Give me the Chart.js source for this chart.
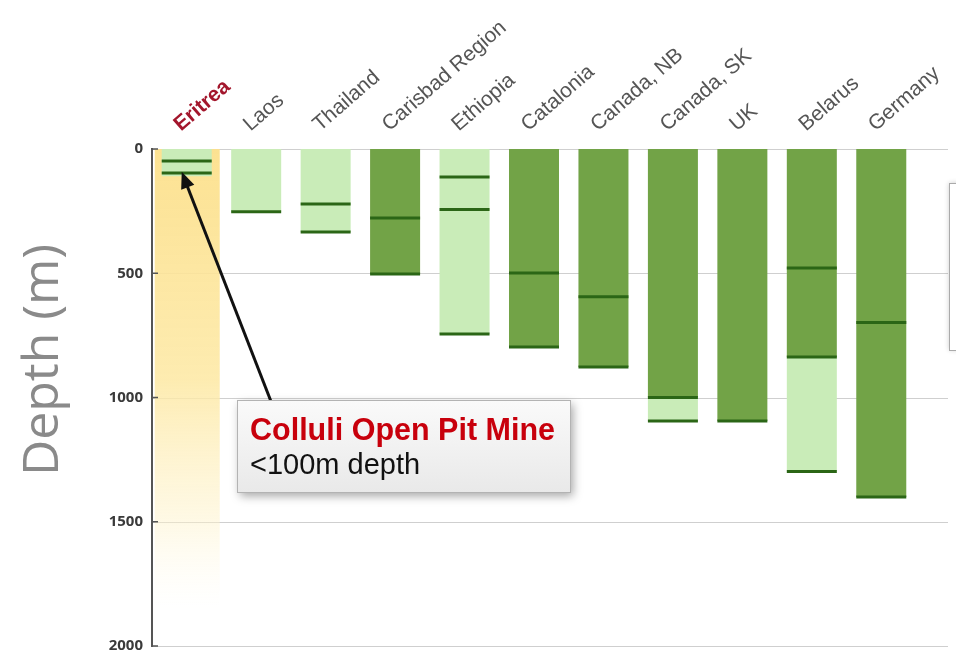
<!DOCTYPE html>
<html>
<head>
<meta charset="utf-8">
<script src="https://cdn.jsdelivr.net/npm/chart.js@4"></script>
<style>
  body { margin: 0; background: #fff; }
  #wrap { width: 956px; height: 667px; position: relative; }
</style>
</head>
<body>
<div id="wrap"><canvas id="myChart"></canvas></div>
<script>
const categories = ['Eritrea', 'Laos', 'Thailand', 'Carisbad Region', 'Ethiopia', 'Catalonia',
  'Canada, NB', 'Canada, SK', 'UK', 'Belarus', 'Germany'];

// depth ranges (m), [top, bottom]
const darkRanges = [null, null, null, [0, 503], null, [0, 797], [0, 877], [0, 1000], [0, 1095], [0, 837], [0, 1400]];
const lightRanges = [[0, 110], [0, 253], [0, 334], null, [0, 744], null, null, [1000, 1095], null, [837, 1298], null];

// horizontal marker lines inside each column
const markDepths = [[48, 97], [253], [221, 334], [278, 503], [113, 243, 744], [499, 797],
  [595, 877], [1000, 1095], [1095], [479, 837, 1298], [698, 1400]];

const yTicks = [0, 500, 1000, 1500, 2000];

const marks = [];
markDepths.forEach((list, i) => {
  list.forEach(d => marks.push({ x: categories[i], y: d }));
});

const data = {
  labels: categories,
  datasets: [
    {
      type: 'line',
      label: 'marks',
      data: marks,
      showLine: false,
      pointStyle: 'line',
      pointRadius: 25,
      pointHoverRadius: 25,
      borderColor: '#2b6616',
      borderWidth: 3,
      order: 0
    },
    {
      label: 'dark',
      data: darkRanges,
      backgroundColor: '#72a347',
      order: 2
    },
    {
      label: 'light',
      data: lightRanges,
      backgroundColor: '#c9ecb8',
      order: 1
    }
  ]
};

// extras drawn on the canvas: highlight band, grid, arrow, callout box
const extras = {
  id: 'extras',
  beforeDatasetsDraw(chart) {
    const { ctx, chartArea, scales: { x, y } } = chart;
    ctx.save();
    // grid lines
    ctx.strokeStyle = '#cfcfcf';
    ctx.lineWidth = 1;
    yTicks.forEach(v => {
      const py = Math.round(y.getPixelForValue(v)) + 0.5;
      ctx.beginPath();
      ctx.moveTo(chartArea.left, py);
      ctx.lineTo(948, py);
      ctx.stroke();
    });
    // Eritrea highlight band
    const cx = x.getPixelForValue(0);
    const top = y.getPixelForValue(0);
    const bot = y.getPixelForValue(1850);
    const g = ctx.createLinearGradient(0, top, 0, bot);
    g.addColorStop(0, 'rgba(252,224,140,0.95)');
    g.addColorStop(0.5, 'rgba(253,232,162,0.85)');
    g.addColorStop(0.8, 'rgba(254,242,200,0.5)');
    g.addColorStop(1, 'rgba(255,250,230,0)');
    ctx.fillStyle = g;
    ctx.fillRect(cx - 32, top, 65, bot - top);
    ctx.restore();
  },
  afterDraw(chart) {
    const { ctx, scales: { x, y } } = chart;
    ctx.save();
    // y axis line
    ctx.strokeStyle = '#555';
    ctx.lineWidth = 2;
    ctx.beginPath();
    ctx.moveTo(152, y.getPixelForValue(0) - 1);
    ctx.lineTo(152, y.getPixelForValue(2000) + 1);
    ctx.stroke();
    ctx.lineWidth = 1.5;
    yTicks.forEach(v => {
      const py = y.getPixelForValue(v);
      ctx.beginPath();
      ctx.moveTo(152, py);
      ctx.lineTo(158, py);
      ctx.stroke();
    });

    // arrow to Eritrea
    const tipX = x.getPixelForValue(0) - 5;
    const tipY = y.getPixelForValue(92);
    const fromX = 272, fromY = 404;
    const ang = Math.atan2(tipY - fromY, tipX - fromX);
    ctx.strokeStyle = '#111';
    ctx.fillStyle = '#111';
    ctx.lineWidth = 3;
    ctx.beginPath();
    ctx.moveTo(fromX, fromY);
    ctx.lineTo(tipX - Math.cos(ang) * 10, tipY - Math.sin(ang) * 10);
    ctx.stroke();
    ctx.beginPath();
    ctx.moveTo(tipX, tipY);
    ctx.lineTo(tipX - Math.cos(ang - 0.4) * 18, tipY - Math.sin(ang - 0.4) * 18);
    ctx.lineTo(tipX - Math.cos(ang + 0.4) * 18, tipY - Math.sin(ang + 0.4) * 18);
    ctx.closePath();
    ctx.fill();

    // callout box
    ctx.save();
    ctx.shadowColor = 'rgba(0,0,0,0.35)';
    ctx.shadowBlur = 9;
    ctx.shadowOffsetX = 3;
    ctx.shadowOffsetY = 4;
    const bg = ctx.createLinearGradient(0, 400, 0, 492);
    bg.addColorStop(0, '#fafafa');
    bg.addColorStop(1, '#e9e9e9');
    ctx.fillStyle = bg;
    ctx.fillRect(237, 400, 333, 92);
    ctx.restore();
    ctx.strokeStyle = '#b3b3b3';
    ctx.lineWidth = 1;
    ctx.strokeRect(237.5, 400.5, 333, 92);
    ctx.textAlign = 'left';
    ctx.textBaseline = 'alphabetic';
    ctx.fillStyle = '#c8000c';
    ctx.font = 'bold 31px "Liberation Sans", Arial, sans-serif';
    ctx.fillText('Colluli Open Pit Mine', 250, 440, 305);
    ctx.fillStyle = '#111';
    ctx.font = '29px "Liberation Sans", Arial, sans-serif';
    ctx.fillText('<100m depth', 250, 474, 177);

    // legend box, cut off at the right edge
    ctx.save();
    ctx.shadowColor = 'rgba(0,0,0,0.2)';
    ctx.shadowBlur = 5;
    ctx.fillStyle = '#fff';
    ctx.fillRect(949, 183, 20, 167);
    ctx.restore();
    ctx.strokeStyle = '#aaa';
    ctx.strokeRect(949.5, 183.5, 20, 167);

    // y title
    ctx.save();
    ctx.translate(44, 360);
    ctx.rotate(-Math.PI / 2);
    ctx.textAlign = 'center';
    ctx.textBaseline = 'middle';
    ctx.fillStyle = '#8a8a8a';
    ctx.font = '50px "Open Sans", sans-serif';
    ctx.fillText('Depth (m)', 0, 0, 242);
    ctx.restore();
    ctx.restore();
  }
};

const config = {
  type: 'bar',
  data,
  options: {
    responsive: true,
    maintainAspectRatio: false,
    animation: false,
    layout: { autoPadding: false, padding: { top: 0, left: 0, right: 40, bottom: 21 } },
    plugins: {
      legend: { display: false },
      tooltip: { enabled: false }
    },
    datasets: {
      bar: { categoryPercentage: 1, barPercentage: 0.72 }
    },
    scales: {
      x: {
        position: 'top',
        stacked: true,
        grid: { display: false },
        border: { display: false },
        afterFit: s => { s.height = 149; },
        ticks: {
          minRotation: 41,
          maxRotation: 41,
          padding: 4,
          labelOffset: 7,
          color: ctx => ctx.index === 0 ? '#a3162c' : '#555',
          font: ctx => ({
            family: '"Liberation Sans", Arial, sans-serif',
            size: 21,
            weight: ctx.index === 0 ? 'bold' : 'normal'
          })
        }
      },
      y: {
        reverse: true,
        min: 0,
        max: 2000,
        stacked: false,
        afterFit: s => {
          s.width = 152;
          s.paddingTop = 0;
          s.paddingBottom = 0;
        },
        grid: { display: false, drawTicks: false },
        border: { display: false },
        afterBuildTicks: s => { s.ticks = yTicks.map(v => ({ value: v })); },
        ticks: {
          padding: 9,
          color: '#3a3a3a',
          callback: v => String(v),
          font: { family: '"Open Sans", sans-serif', size: 15, weight: 'bold' }
        }
      }
    }
  },
  plugins: [extras]
};

const myChart = new Chart(document.getElementById('myChart'), config);
</script>
</body>
</html>
